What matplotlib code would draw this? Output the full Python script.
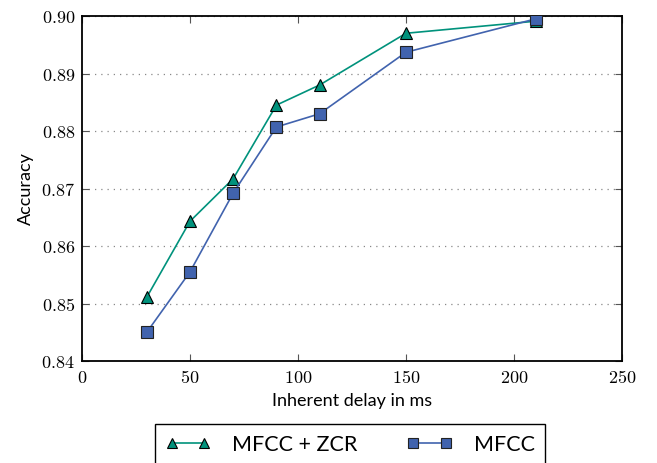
import matplotlib
matplotlib.use("Agg")
import matplotlib.pyplot as plt

plt.rcParams["mathtext.fontset"] = "cm"

delay = [30, 50, 70, 90, 110, 150, 210]
acc_mfcc_zcr = [0.8511, 0.8643, 0.8717, 0.8845, 0.8880, 0.8970, 0.8991]
acc_mfcc = [0.8450, 0.8555, 0.8692, 0.8807, 0.8830, 0.8937, 0.8995]
xticks = [0, 50, 100, 150, 200, 250]
yticks = [0.84, 0.85, 0.86, 0.87, 0.88, 0.89, 0.90]

green = "#00927C"
blue = "#4163AE"

fig = plt.figure(figsize=(6.57, 4.63), dpi=100)
ax = fig.add_axes([0.1248, 0.2203, 0.8219, 0.7451])

ax.plot(delay, acc_mfcc_zcr, color=green, lw=1.2, marker="^", ms=9,
        mfc=green, mec="black", mew=0.8, label="MFCC + ZCR", zorder=3)
ax.plot(delay, acc_mfcc, color=blue, lw=1.2, marker="s", ms=8.5,
        mfc=blue, mec="#222222", mew=0.8, label="MFCC", zorder=4)

ax.set_xlim(0, 250)
ax.set_ylim(0.84, 0.90)
ax.set_xticks(xticks)
ax.set_yticks(yticks)
ax.set_xticklabels([f"${v}$" for v in xticks])
ax.set_yticklabels([f"${v:.2f}$" for v in yticks])

ax.tick_params(direction="in", top=True, right=True, length=5, width=0.8,
               color="#555555", labelsize=13)
ax.tick_params(axis="x", pad=6)
ax.tick_params(axis="y", pad=5)
for s in ax.spines.values():
    s.set_linewidth(1.3)

ax.yaxis.grid(True, linestyle=(0, (1, 4)), color="#888888", lw=0.9)
ax.set_axisbelow(True)

ax.set_xlabel("Inherent delay in ms", family="Lato", fontsize=13, labelpad=4)
ax.set_ylabel("Accuracy", family="Lato", fontsize=13, labelpad=5)

leg = fig.legend(loc="upper center", bbox_to_anchor=(0.5327, 0.0842), ncol=2,
                 prop={"family": "Lato", "size": 15.5}, fancybox=False,
                 edgecolor="black", framealpha=1, handlelength=2.1,
                 handletextpad=1.0, numpoints=2, borderaxespad=0,
                 columnspacing=2.3, borderpad=0.5, markerscale=0.85)
leg.get_frame().set_linewidth(1.0)

fig.savefig("out.png", dpi=100)
